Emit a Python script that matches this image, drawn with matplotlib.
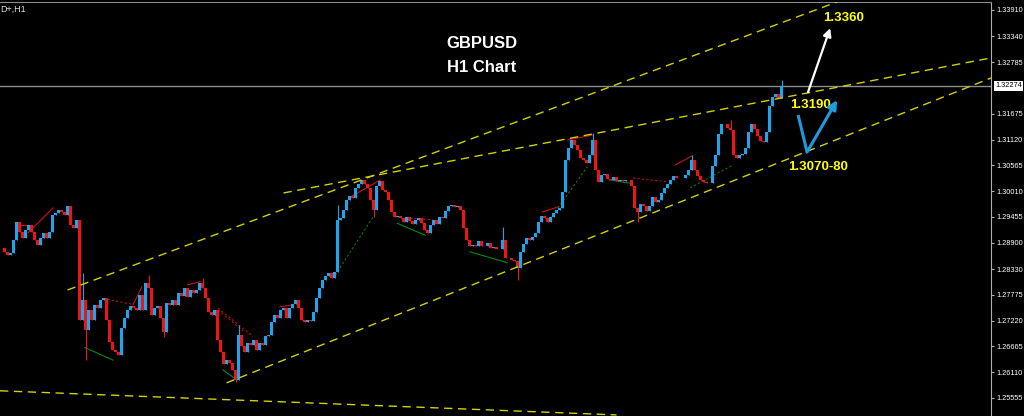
import matplotlib
matplotlib.use('Agg')
import matplotlib.pyplot as plt
from matplotlib import font_manager
import numpy as np

# ---------------- data ----------------
closes = [
    1.2879, 1.2870, 1.2864, 1.2868, 1.2896, 1.2935, 1.2913, 1.2900, 1.2917, 1.2928,
    1.2913, 1.2896, 1.2885, 1.2900, 1.2911, 1.2900, 1.2913, 1.2950, 1.2954, 1.2960,
    1.2956, 1.2950, 1.2969, 1.2928, 1.2922, 1.2939, 1.2723, 1.2767, 1.2702, 1.2745,
    1.2723, 1.2756, 1.2749, 1.2767, 1.2771, 1.2723, 1.2676, 1.2659, 1.2655, 1.2648,
    1.2706, 1.2728, 1.2745, 1.2754, 1.2749, 1.2745, 1.2777, 1.2745, 1.2803, 1.2792,
    1.2734, 1.2749, 1.2754, 1.2728, 1.2698, 1.2760, 1.2756, 1.2767, 1.2756, 1.2782,
    1.2775, 1.2792, 1.2773, 1.2788, 1.2782, 1.2788, 1.2803, 1.2792, 1.2771, 1.2741,
    1.2734, 1.2745, 1.2680, 1.2655, 1.2629, 1.2637, 1.2631, 1.2616, 1.2594, 1.2691,
    1.2668, 1.2655, 1.2674, 1.2670, 1.2680, 1.2659, 1.2674, 1.2670, 1.2689, 1.2691,
    1.2719, 1.2734, 1.2728, 1.2745, 1.2749, 1.2728, 1.2749, 1.2758, 1.2767, 1.2749,
    1.2723, 1.2719, 1.2723, 1.2721, 1.2741, 1.2771, 1.2792, 1.2810, 1.2818, 1.2825,
    1.2814, 1.2826, 1.2939, 1.2943, 1.2960, 1.2982, 1.2990, 1.2986, 1.3008, 1.3016,
    1.3025, 1.3016, 1.3008, 1.2982, 1.2960, 1.3012, 1.3023, 1.3003, 1.2999, 1.2982,
    1.2956, 1.2945, 1.2947, 1.2943, 1.2935, 1.2945, 1.2937, 1.2930, 1.2939, 1.2943,
    1.2932, 1.2917, 1.2911, 1.2928, 1.2939, 1.2930, 1.2945, 1.2943, 1.2958, 1.2969,
    1.2971, 1.2967, 1.2969, 1.2960, 1.2922, 1.2896, 1.2883, 1.2885, 1.2883, 1.2894,
    1.2883, 1.2883, 1.2889, 1.2879, 1.2881, 1.2876, 1.2876, 1.2896, 1.2857, 1.2857,
    1.2853, 1.2850, 1.2835, 1.2870, 1.2887, 1.2900, 1.2896, 1.2902, 1.2911, 1.2935,
    1.2947, 1.2943, 1.2935, 1.2945, 1.2954, 1.2960, 1.2965, 1.2999, 1.3068, 1.3094,
    1.3111, 1.3100, 1.3090, 1.3072, 1.3068, 1.3062, 1.3079, 1.3111, 1.3046, 1.3021,
    1.3036, 1.3038, 1.3027, 1.3025, 1.3031, 1.3023, 1.3025, 1.3023, 1.3025, 1.3025,
    1.3012, 1.2965, 1.2956, 1.2973, 1.2969, 1.2958, 1.2969, 1.2988, 1.2978, 1.2982,
    1.2997, 1.3008, 1.3016, 1.3025, 1.3033, 1.3029, 1.3029, 1.3029, 1.3036, 1.3046,
    1.3068, 1.3046, 1.3033, 1.3025, 1.3021, 1.3018, 1.3018, 1.3055, 1.3079, 1.3124,
    1.3146, 1.3146, 1.3137, 1.3133, 1.3079, 1.3072, 1.3079, 1.3081, 1.3094, 1.3128,
    1.3146, 1.3135, 1.3120, 1.3109, 1.3107, 1.3128, 1.3184, 1.3204, 1.3210, 1.3201,
    1.3227,
]

wick_highs = {27: 1.2825, 49: 1.2821, 67: 1.2814, 79: 1.2713, 112: 1.2971,
              167: 1.2924, 197: 1.3126, 230: 1.3079, 243: 1.3155, 260: 1.3240}
wick_lows = {28: 1.2637, 54: 1.2687, 78: 1.2590, 124: 1.2945, 172: 1.2810,
             212: 1.2935}

y_ticks = [1.33910, 1.33340, 1.32785, 1.31675, 1.31120, 1.30565, 1.30010,
           1.29455, 1.28900, 1.28330, 1.27775, 1.27220, 1.26665, 1.26110, 1.25555]
current_price = 1.32274

trendlines = [((22, 1.2788), (280, 1.3412)),
              ((94, 1.2997), (330, 1.3288)),
              ((75, 1.2588), (330, 1.3245)),
              ((-0.5, 1.2571), (205, 1.2519))]

red_solid = [((5.2, 1.2928), (8.8, 1.2928)), ((8.8, 1.2911), (17.2, 1.2965)),
             ((43.8, 1.2756), (46.8, 1.2795)), ((62.0, 1.2799), (66.2, 1.2806)),
             ((92.8, 1.2752), (97.2, 1.2756)), ((116.2, 1.2988), (126.2, 1.3025)),
             ((180.2, 1.2956), (185.5, 1.2967)), ((188.8, 1.3111), (197.2, 1.3122)),
             ((224.5, 1.3057), (230.2, 1.3077))]
red_dotted = [((33.8, 1.2770), (43.8, 1.2757)), ((72.2, 1.2749), (83.8, 1.2688)),
              ((72.2, 1.2745), (80.5, 1.2700)), ((136.2, 1.2943), (143.8, 1.2939)),
              ((210.5, 1.3029), (222.2, 1.3021))]
green_solid = [((27.8, 1.2664), (37.2, 1.2637)), ((73.8, 1.2616), (78.5, 1.2594)),
               ((131.8, 1.2932), (141.2, 1.2906)), ((156.2, 1.2870), (168.5, 1.2847)),
               ((202.8, 1.3025), (209.5, 1.3018))]
green_dotted = [((111.2, 1.2820), (123.8, 1.2945)), ((185.5, 1.2965), (195.2, 1.3053)),
                ((229.5, 1.3008), (243.8, 1.3057))]

# ---------------- style ----------------
BULL = '#1CA6EE'
BEAR = '#F01414'
YEL = '#D2D200'

installed = {f.name for f in font_manager.fontManager.ttflist}
small_family = 'Liberation Sans Narrow' if 'Liberation Sans Narrow' in installed else 'Liberation Sans'
small_size = 6.3 if small_family == 'Liberation Sans Narrow' else 5.3

fig = plt.figure(figsize=(10.24, 4.16), dpi=100, facecolor='black')
ax = fig.add_axes([0, 0, 991 / 1024, 414 / 416])
ax.set_facecolor('black')
ax.set_xlim(-0.5, 329.8)
ax.set_ylim(1.25167, 1.34082)

# candles
c = np.array(closes)
idx = np.arange(len(c))
o = np.concatenate([[c[0]], c[:-1]])
hi = np.maximum(o, c)
lo = np.minimum(o, c)
for k, v in wick_highs.items():
    hi[k] = max(hi[k], v)
for k, v in wick_lows.items():
    lo[k] = min(lo[k], v)
up = c >= o
cols = np.where(up, BULL, BEAR)
ax.vlines(idx, lo, hi, colors=cols, linewidth=0.8, zorder=3)
ax.bar(idx, c - o, bottom=o, width=0.75, color=cols, linewidth=0, zorder=3)

# indicator lines
for (a, b) in red_solid:
    ax.plot([a[0], b[0]], [a[1], b[1]], color='#D01010', lw=0.8, zorder=2)
for (a, b) in red_dotted:
    ax.plot([a[0], b[0]], [a[1], b[1]], color='#C01010', lw=0.8, ls=(0, (2, 2)), zorder=2)
for (a, b) in green_solid:
    ax.plot([a[0], b[0]], [a[1], b[1]], color='#0A8A0A', lw=0.8, zorder=2)
for (a, b) in green_dotted:
    ax.plot([a[0], b[0]], [a[1], b[1]], color='#0A7A0A', lw=0.8, ls=(0, (2, 2)), zorder=2)

# trendlines
for (a, b) in trendlines:
    ax.plot([a[0], b[0]], [a[1], b[1]], color=YEL, lw=1.0, ls=(0, (6, 4)), zorder=4)

# current price line
ax.axhline(current_price, color='#8C8C8C', lw=1.0, zorder=1)

# arrows
ax.annotate('', xy=(276.2, 1.3352), xytext=(268.8, 1.3214),
            arrowprops=dict(arrowstyle='-|>', color='white', lw=1.6,
                            mutation_scale=12, shrinkA=0, shrinkB=0), zorder=6)
ax.plot([265.5, 268.5], [1.3165, 1.3085], color='#1E9BE0', lw=2.2,
        solid_capstyle='butt', zorder=6)
ax.annotate('', xy=(278.5, 1.3197), xytext=(268.5, 1.3085),
            arrowprops=dict(arrowstyle='-|>', color='#1E9BE0', lw=2.2,
                            mutation_scale=13, shrinkA=0, shrinkB=0), zorder=6)

# texts
bold = dict(family='Liberation Sans', weight='bold')
ax.text(0.486, 0.899, 'GBPUSD', transform=ax.transAxes, color='white',
        fontsize=12, ha='center', va='center', **bold)
ax.text(0.486, 0.841, 'H1 Chart', transform=ax.transAxes, color='white',
        fontsize=12, ha='center', va='center', **bold)
ax.text(280.5, 1.3374, '1.3360', color='#FFFF00', fontsize=9.5,
        ha='center', va='center', **bold)
ax.text(269.5, 1.3187, '1.3190', color='#FFFF00', fontsize=9.5,
        ha='center', va='center', **bold)
ax.text(272.2, 1.3053, '1.3070-80', color='#FFFF00', fontsize=9.5,
        ha='center', va='center', **bold)
fig.text(0.0, 1 - 9 / 416, 'D+,H1', color='#E0E0E0', fontsize=6.5,
         ha='left', va='center', family='Liberation Sans')

# axes
for s in ['left', 'bottom']:
    ax.spines[s].set_visible(False)
ax.spines['right'].set_color('#B0B0B0')
ax.spines['top'].set_color('#8C8C8C')
ax.set_xticks([])
ax.yaxis.tick_right()
ax.set_yticks(y_ticks)
ax.set_yticklabels([f'{t:.5f}' for t in y_ticks], family=small_family)
ax.tick_params(axis='y', colors='#B0B0B0', labelcolor='white', labelsize=small_size,
               length=2.5, pad=1.5)

ax.annotate(f'{current_price:.5f}', xy=(1, current_price),
            xycoords=('axes fraction', 'data'), xytext=(3, 0),
            textcoords='offset points', ha='left', va='center', color='black',
            fontsize=small_size, family=small_family,
            bbox=dict(facecolor='white', edgecolor='none', pad=0.8),
            annotation_clip=False, zorder=10)

fig.savefig('out.png', dpi=100, facecolor='black')
